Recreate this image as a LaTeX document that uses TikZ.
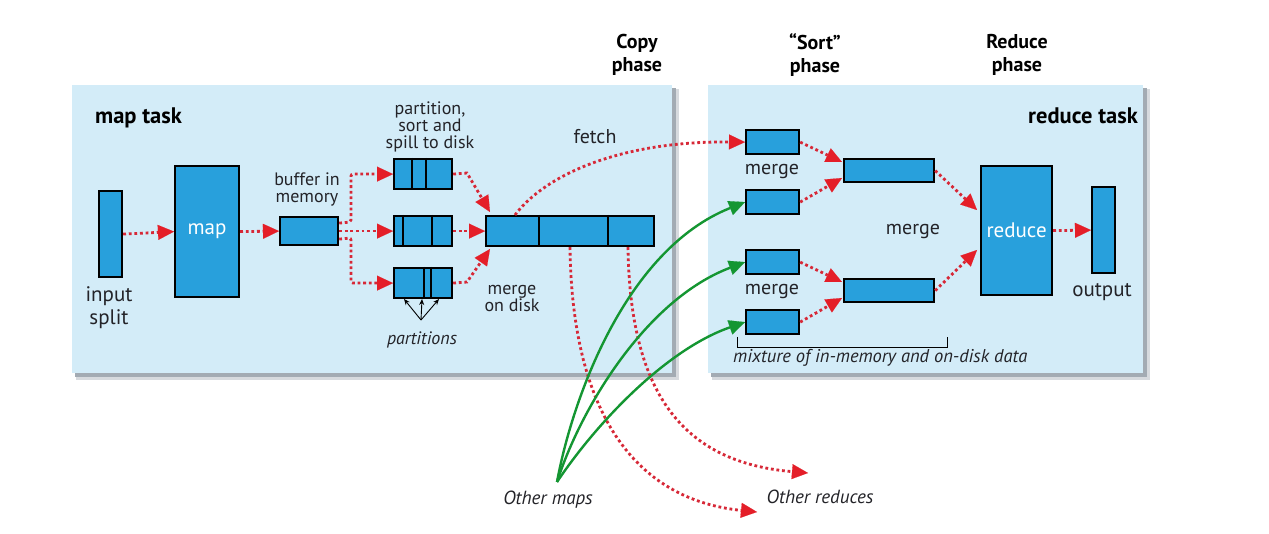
\documentclass[tikz,border=0pt]{standalone}
\usepackage{fontspec}
\setmainfont{PT Sans}
\usetikzlibrary{arrows.meta,calc}
\definecolor{panel}{RGB}{211,236,248}
\definecolor{shadowc}{RGB}{140,150,160}
\definecolor{boxblue}{RGB}{40,160,220}
\definecolor{dotred}{RGB}{215,40,55}
\definecolor{tipred}{RGB}{228,30,40}
\definecolor{mygreen}{RGB}{20,150,50}
\definecolor{txt}{RGB}{35,35,40}
\begin{document}
\begin{tikzpicture}[x=1pt,y=-1pt,
  blk/.style={draw=black, line width=2.2pt, fill=boxblue, inner sep=0pt, anchor=north west},
  divider/.style={draw=black, line width=2.2pt},
  reddot/.style={draw=dotred, line width=2.8pt, dash pattern=on 2.8pt off 2.8pt,
    -{Triangle[length=16pt,width=15pt,line width=0.1pt,color=tipred]}},
  grn/.style={draw=mygreen, line width=2.4pt,
    -{Triangle[length=16pt,width=15pt,line width=0.1pt,color=mygreen]}},
  lbl/.style={text=txt, inner sep=0pt, align=center, font=\fontsize{20}{21}\selectfont},
  slbl/.style={text=txt, inner sep=0pt, align=center, font=\fontsize{18}{17}\selectfont},
  ital/.style={text=txt, inner sep=0pt, align=center, font=\fontsize{19}{20}\selectfont\itshape},
  head/.style={text=black, inner sep=0pt, align=center, font=\fontsize{20}{23}\selectfont\bfseries},
  part/.style={draw=black, line width=0.9pt, -{Stealth[length=6pt,width=5pt]}}
]
\useasboundingbox (0,0) rectangle (1269,534);
\fill[white] (0,0) rectangle (1269,534);

% panels with shadows
\fill[shadowc!35] (76,89) rectangle (679,380);
\fill[shadowc!80] (75,88) rectangle (676,377);
\fill[panel] (72,85) rectangle (672,373);
\fill[shadowc!35] (712,89) rectangle (1150,380);
\fill[shadowc!80] (711,88) rectangle (1147,377);
\fill[panel] (708,85) rectangle (1143,373);

% headings
\node[head, font=\fontsize{22.5}{23}\selectfont\bfseries, anchor=base west] (maptask) at (95,124) {map task};
\node[head, font=\fontsize{22.5}{23}\selectfont\bfseries, anchor=base east] (redtask) at (1138,124) {reduce task};
\node[head] (copyph) at (637,55) {Copy\\phase};
\node[head] (sortph) at (815,55) {“Sort”\\phase};
\node[head] (redph) at (1017,55) {Reduce\\phase};

% map side boxes
\node[blk, minimum width=23, minimum height=86] (inp) at (98,190) {};
\node[blk, minimum width=64, minimum height=131, text=white, font=\fontsize{21}{21}\selectfont] (map) at (174,165) {map};
\node[blk, minimum width=58, minimum height=28] (buf) at (279,216) {};
\node[blk, minimum width=58, minimum height=30] (s1) at (393,158) {};
\node[blk, minimum width=58, minimum height=30] (s2) at (393,215) {};
\node[blk, minimum width=58, minimum height=30] (s3) at (393,267) {};
\draw[divider] (412,158) -- (412,188);
\draw[divider] (426,158) -- (426,188);
\draw[divider] (403,215) -- (403,245);
\draw[divider] (432,215) -- (432,245);
\draw[divider] (424,267) -- (424,297);
\draw[divider] (431,267) -- (431,297);
\node[blk, minimum width=168, minimum height=30] (mg) at (485,215) {};
\draw[divider] (539,215) -- (539,245);
\draw[divider] (608,215) -- (608,245);

% map side labels
\node[lbl, font=\fontsize{21}{23}\selectfont] (inplbl) at (109,308) {input\\split};
\node[slbl] (buflbl) at (307,189) {buffer in\\memory};
\node[slbl] (spilllbl) at (430,127) {partition,\\sort and\\spill to disk};
\node[ital, font=\fontsize{18}{20}\selectfont\itshape] (partlbl) at (422,340) {partitions};
\node[slbl] (mdlbl) at (512,299) {merge\\on disk};
\node[lbl] (fetchlbl) at (595,137) {fetch};

% partitions arrows
\coordinate (pa) at (421,320);
\draw[part] (pa) -- (404,299);
\draw[part] (pa) -- (422,299);
\draw[part] (pa) -- (439,299);

% map side connectors
\draw[reddot] (inp.east) -- (map.west);
\draw[reddot] (map.east) -- (buf.west);
\draw[reddot, rounded corners=2pt] ($(buf.east)+(0,-8)$) -- (351,222) |- (s1.west);
\draw[reddot] (buf.east) -- (s2.west);
\draw[reddot, rounded corners=2pt] ($(buf.east)+(0,8)$) -- (351,238) |- (s3.west);
\draw[reddot] (s1.east) -- (467,173) -- (490,212);
\draw[reddot] (s2.east) -- (mg.west);
\draw[reddot] (s3.east) -- (467,282) -- (490,249);

% reduce side boxes
\node[blk, minimum width=53, minimum height=24] (b1) at (745,129) {};
\node[blk, minimum width=53, minimum height=24] (b2) at (745,189) {};
\node[blk, minimum width=53, minimum height=24] (b3) at (745,249) {};
\node[blk, minimum width=53, minimum height=24] (b4) at (745,309) {};
\node[blk, minimum width=90, minimum height=23] (m1) at (843,158) {};
\node[blk, minimum width=90, minimum height=23] (m2) at (843,278) {};
\node[blk, minimum width=71, minimum height=129, text=white, font=\fontsize{21}{21}\selectfont] (red) at (980,165) {reduce};
\node[blk, minimum width=23, minimum height=86] (out) at (1091,186) {};

% reduce side labels
\node[lbl] (mlbl1) at (772,172) {merge};
\node[lbl] (mlbl2) at (772,292) {merge};
\node[lbl] (mlbl3) at (913,232) {merge};
\node[lbl, font=\fontsize{21}{21}\selectfont] (outlbl) at (1102,292) {output};
\draw[black, line width=0.9pt] (737,337) -- (737,347) -- (947,347) -- (947,337);
\node[ital, font=\fontsize{18.5}{20}\selectfont\itshape, anchor=west] (mixlbl) at (733,358) {mixture of in-memory and on-disk data};

% reduce side connectors
\draw[reddot] (b1.east) -- (842,162);
\draw[reddot] (b2.east) -- (842,178);
\draw[reddot] (b3.east) -- (842,282);
\draw[reddot] (b4.east) -- (842,298);
\draw[reddot] (m1.east) -- (977,210);
\draw[reddot] (m2.east) -- (977,250);
\draw[reddot] (red.east) -- (out.west);

% fetch
\draw[reddot] ($(mg.north west)+(30,0)$) .. controls (545,175) and (620,141) .. (b1.west);

% other reduces
\coordinate (or1) at (757,512);
\coordinate (or2) at (808,473);
\draw[reddot] ($(mg.south west)+(85,0)$) .. controls (572,420) and (640,500) .. (or1);
\draw[reddot] ($(mg.south west)+(143,0)$) .. controls (630,390) and (680,462) .. (or2);
\node[ital] (orlbl) at (820,497) {Other reduces};

% other maps
\coordinate (om) at (557,482);
\draw[grn] (om) .. controls (572,400) and (625,250) .. (b2.west);
\draw[grn] (om) .. controls (580,410) and (645,300) .. (b3.west);
\draw[grn] (om) .. controls (595,425) and (665,350) .. (b4.west);
\node[ital] (omlbl) at (548,500) {Other maps};
\end{tikzpicture}
\end{document}
